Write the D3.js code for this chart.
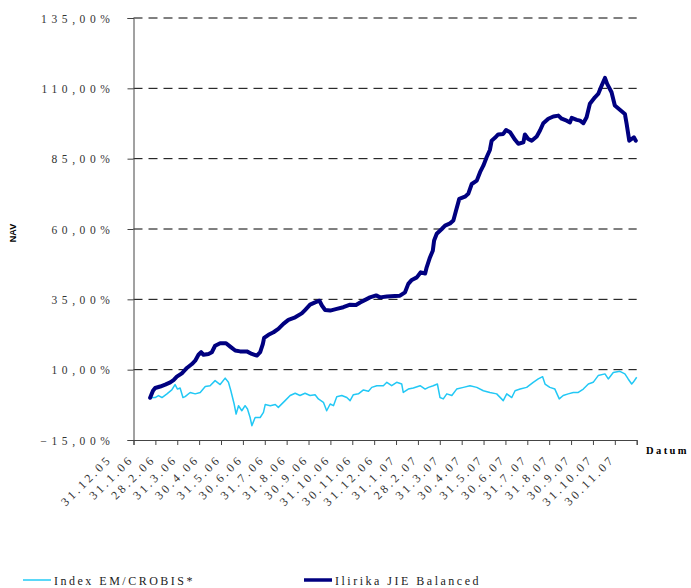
<!DOCTYPE html>
<html>
<head>
<meta charset="utf-8">
<script src="https://cdn.jsdelivr.net/npm/d3@7"></script>
<style>
  body { margin: 0; background: #fff; }
  svg { display: block; }
  .tick-label { font-family: "Liberation Serif", serif; font-size: 11.5px; fill: #333; letter-spacing: 4.6px; }
  .date-label { font-family: "Liberation Serif", serif; font-size: 12px; fill: #333; letter-spacing: 3px; }
  .legend-label { font-family: "Liberation Serif", serif; font-size: 12px; fill: #222; letter-spacing: 2.5px; }
</style>
</head>
<body>
<svg id="chart" width="691" height="588"></svg>
<script>
// month ticks (month-end dates), position 0 = 31.12.05
const dateLabels = ["31.12.05", "31.1.06", "28.2.06", "31.3.06", "30.4.06", "31.5.06", "30.6.06",
    "31.7.06", "31.8.06", "30.9.06", "31.10.06", "30.11.06", "31.12.06", "31.1.07", "28.2.07",
    "31.3.07", "30.4.07", "31.5.07", "30.6.07", "31.7.07", "31.8.07", "30.9.07", "31.10.07", "30.11.07"];

const yTicks = [-15, 10, 35, 60, 85, 110, 135];

// Ilirika JIE Balanced: months since 31.12.05 / NAV change in %
const fundMonths = [0.76, 0.89, 0.99, 1.22, 1.45, 1.68, 1.83, 1.98, 2.21, 2.44, 2.67, 2.82, 2.97, 3.09,
    3.20, 3.43, 3.58, 3.73, 3.96, 4.23, 4.42, 4.65, 4.87, 5.18, 5.41, 5.64, 5.79, 5.91, 5.97, 6.17,
    6.40, 6.62, 6.85, 7.08, 7.39, 7.69, 7.84, 8.07, 8.30, 8.50, 8.61, 8.76, 8.99, 9.29, 9.59, 9.90,
    10.17, 10.36, 10.59, 10.81, 11.09, 11.27, 11.58, 11.95, 12.18, 12.41, 12.56, 12.72, 12.95, 13.13,
    13.33, 13.40, 13.55, 13.68, 13.74, 13.86, 14.09, 14.24, 14.47, 14.62, 14.74, 14.89, 15.15, 15.30,
    15.46, 15.69, 15.84, 15.99, 16.14, 16.29, 16.37, 16.52, 16.67, 16.90, 17.03, 17.21, 17.44, 17.59,
    17.82, 17.89, 18.04, 18.20, 18.43, 18.58, 18.73, 18.96, 19.19, 19.42, 19.57, 19.80, 19.95, 20.03,
    20.26, 20.41, 20.56, 20.71, 20.86, 21.09, 21.24, 21.40, 21.55, 21.65, 21.85, 22.00, 22.23, 22.46,
    22.54, 22.66, 22.77, 22.87, 22.96];
const fundValues = [0.0, 2.5, 3.5, 4.0, 4.7, 5.5, 6.3, 7.5, 8.7, 10.6, 12.0, 13.2, 15.3, 16.2,
    15.3, 15.6, 16.2, 18.5, 19.4, 19.4, 18.2, 16.8, 16.5, 16.5, 15.6, 15.0, 16.2, 19.1, 21.3, 22.4,
    23.3, 24.5, 26.3, 27.7, 28.6, 30.0, 31.2, 33.1, 33.9, 34.5, 32.8, 31.2, 31.0, 31.6, 32.2, 33.1,
    33.0, 33.9, 34.8, 35.7, 36.4, 35.7, 36.0, 36.2, 36.3, 37.5, 40.5, 41.9, 42.8, 44.6,
    44.2, 46.4, 49.9, 52.3, 55.9, 58.3, 60.0, 61.2, 62.0, 63.0, 66.5, 70.7, 71.5, 72.5,
    76.0, 77.2, 80.2, 82.5, 85.5, 88.1, 91.4, 92.4, 93.6, 93.8, 95.2, 94.4, 91.7, 90.3,
    90.8, 93.6, 92.0, 91.4, 92.9, 95.0, 97.6, 99.2, 100.0, 100.3, 99.2, 98.5, 97.9, 99.5,
    98.8, 98.5, 97.6, 99.7, 104.5, 106.8, 108.0, 111.0, 113.7, 111.6, 108.6, 103.9, 102.4, 100.9,
    97.4, 91.4, 92.0, 92.6, 91.4];

// Index EM/CROBIS*
const indexMonths = [0.76, 0.99, 1.14, 1.30, 1.53, 1.75, 1.90, 2.01, 2.13, 2.26, 2.36, 2.59, 2.82, 3.05,
    3.28, 3.50, 3.73, 3.96, 4.19, 4.34, 4.45, 4.60, 4.69, 4.80, 4.95, 5.10, 5.21, 5.33, 5.41, 5.56,
    5.79, 5.94, 6.02, 6.25, 6.48, 6.62, 6.93, 7.16, 7.39, 7.61, 7.84, 8.07, 8.30, 8.45, 8.68, 8.83,
    8.99, 9.14, 9.29, 9.52, 9.75, 9.90, 10.05, 10.28, 10.51, 10.74, 10.89, 11.12, 11.42, 11.58, 11.80,
    12.03, 12.26, 12.33, 12.56, 12.79, 13.10, 13.33, 13.48, 13.70, 13.89, 14.01, 14.16, 14.32, 14.55,
    14.77, 15.08, 15.38, 15.69, 15.99, 16.29, 16.60, 16.90, 17.06, 17.29, 17.44, 17.67, 17.97, 18.27,
    18.50, 18.70, 18.81, 19.03, 19.26, 19.46, 19.64, 19.87, 20.10, 20.33, 20.56, 20.79, 21.01, 21.24,
    21.55, 21.70, 21.93, 22.23, 22.46, 22.61, 22.77, 22.84, 23.00];
const indexValues = [0.0, 0.1, 0.8, 0.1, 1.4, 2.8, 4.7, 3.1, 3.5, 0.1, 0.4, 1.9, 1.4, 1.9,
    4.0, 4.3, 6.1, 4.7, 7.0, 5.5, 2.5, -2.2, -5.8, -2.8, -4.6, -2.8, -4.0, -7.0, -9.9, -7.0,
    -7.0, -5.2, -2.4, -2.8, -2.4, -3.4, -1.0, 0.8, 1.6, 0.8, 1.6, 0.8, 1.1, -0.4, -1.6, -4.6,
    -2.2, -2.8, 0.4, 0.8, 0.1, -1.0, 1.1, 1.4, 2.8, 2.3, 3.7, 4.3, 4.3, 5.5, 4.3,
    5.5, 4.9, 1.9, 3.1, 3.5, 4.3, 3.1, 3.7, 4.3, 4.9, 0.1, -0.4, 1.4, 0.8,
    3.1, 3.7, 4.3, 3.7, 2.5, 1.9, 1.4, -1.0, 1.4, 0.1, 2.5, 3.1, 3.7, 5.5,
    6.7, 7.5, 4.9, 3.7, 3.1, -0.4, 0.8, 1.4, 1.9, 1.9, 3.1, 4.9, 5.5, 7.9,
    8.5, 6.7, 9.0, 9.4, 8.5, 6.7, 4.9, 5.5, 7.3];

const svg = d3.select("#chart");
const plotLeft = 133.5, plotRight = 636.7, plotTop = 18, plotBottom = 440;

const x = d3.scaleLinear().domain([0, dateLabels.length - 1]).range([plotLeft, plotRight]);
const y = d3.scaleLinear().domain([-15, 135]).range([plotBottom, plotTop]);

const locale = d3.formatLocale({ decimal: ",", thousands: ".", grouping: [3], currency: ["", ""] });
const fmtPct = v => locale.format(".2f")(v) + "%";

// dashed gridlines
svg.append("g")
    .selectAll("line")
    .data(yTicks.filter(v => v > -15))
    .enter()
    .append("line")
    .attr("x1", plotLeft)
    .attr("x2", plotRight)
    .attr("y1", d => y(d))
    .attr("y2", d => y(d))
    .attr("stroke", "#000")
    .attr("stroke-width", 1)
    .attr("stroke-dasharray", "9,6");

// y axis
const yAxis = svg.append("g")
    .attr("transform", `translate(${plotLeft},0)`)
    .call(d3.axisLeft(y).tickValues(yTicks).tickSize(6).tickFormat(fmtPct));
yAxis.select(".domain").attr("stroke", "#444");
yAxis.selectAll(".tick line").attr("stroke", "#444");
yAxis.selectAll(".tick text")
    .attr("class", "tick-label")
    .attr("x", -19)
    .attr("dy", "0.35em");
yAxis.attr("font-family", null).attr("font-size", null);

// x axis
const xAxis = svg.append("g")
    .attr("transform", `translate(0,${plotBottom})`)
    .call(d3.axisBottom(x).tickValues(d3.range(dateLabels.length)).tickSize(5).tickFormat(""));
xAxis.select(".domain").attr("stroke", "#444");
xAxis.selectAll(".tick line").attr("stroke", "#444");

svg.append("g")
    .selectAll("text")
    .data(dateLabels)
    .enter()
    .append("text")
    .attr("class", "date-label")
    .attr("text-anchor", "end")
    .attr("transform", (d, i) => `translate(${x(i) - 21},${plotBottom + 20}) rotate(-45)`)
    .text(d => d);

// axis titles
svg.append("text")
    .attr("transform", `translate(16,${(plotTop + plotBottom) / 2 + 4}) rotate(-90)`)
    .attr("text-anchor", "middle")
    .attr("font-family", "Liberation Sans, Arial, sans-serif")
    .attr("font-size", 9)
    .attr("font-weight", "bold")
    .text("NAV");

svg.append("text")
    .attr("x", 646)
    .attr("y", 454)
    .attr("font-family", "Liberation Serif, serif")
    .attr("font-size", 10.5)
    .attr("font-weight", "bold")
    .attr("letter-spacing", "2.4px")
    .text("Datum");

// series
const line = d3.line()
    .x(d => x(d[0]))
    .y(d => y(d[1]));

svg.append("path")
    .datum(d3.zip(indexMonths, indexValues))
    .attr("fill", "none")
    .attr("stroke", "#22c8f5")
    .attr("stroke-width", 1.5)
    .attr("stroke-linejoin", "round")
    .attr("d", line);

svg.append("path")
    .datum(d3.zip(fundMonths, fundValues))
    .attr("fill", "none")
    .attr("stroke", "#000080")
    .attr("stroke-width", 4)
    .attr("stroke-linejoin", "round")
    .attr("stroke-linecap", "round")
    .attr("d", line);

// legend
const legend = [
    { name: "Index EM/CROBIS*", color: "#5ad8f8", width: 2, x: 23 },
    { name: "Ilirika JIE Balanced", color: "#000080", width: 3.5, x: 304 }
];
const lg = svg.append("g").selectAll("g").data(legend).enter().append("g")
    .attr("transform", d => `translate(${d.x},580)`);
lg.append("line")
    .attr("x1", 0).attr("x2", 28)
    .attr("stroke", d => d.color)
    .attr("stroke-width", d => d.width);
lg.append("text")
    .attr("class", "legend-label")
    .attr("x", 31)
    .attr("y", 4.5)
    .text(d => d.name);
</script>
</body>
</html>
